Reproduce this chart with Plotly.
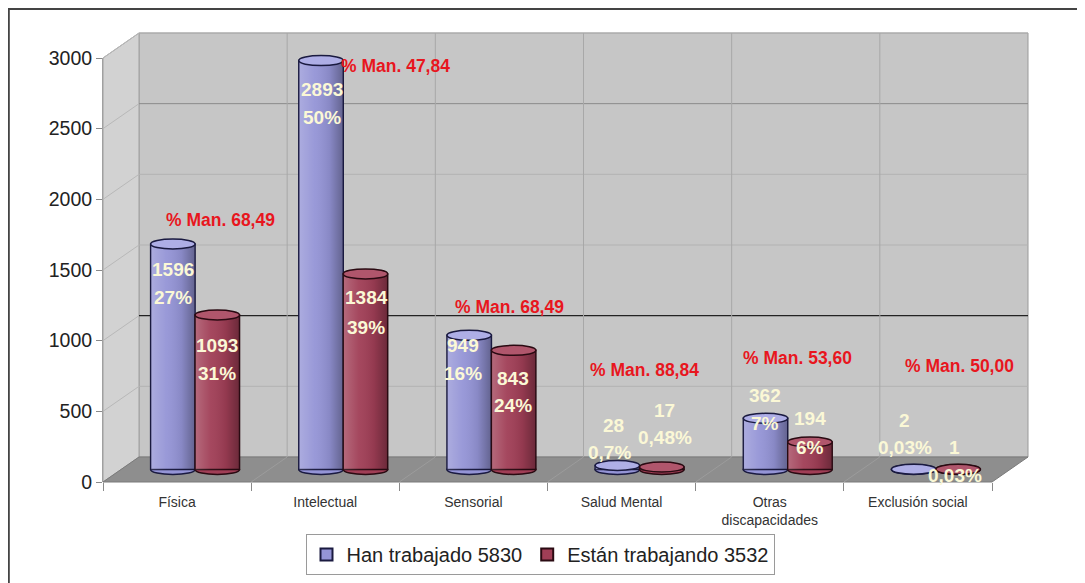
import plotly.graph_objects as go

categories = ["Física", "Intelectual", "Sensorial", "Salud Mental", "Otras<br>discapacidades", "Exclusión social"]
han = [1596, 2893, 949, 28, 362, 2]
estan = [1093, 1384, 843, 17, 194, 1]
han_pct = ["27%", "50%", "16%", "0,7%", "7%", "0,03%"]
estan_pct = ["31%", "39%", "24%", "0,48%", "6%", "0,03%"]
man_pct = ["68,49", "47,84", "68,49", "88,84", "53,60", "50,00"]
y_ticks = [0, 500, 1000, 1500, 2000, 2500, 3000]
legend_names = ["Han trabajado 5830", "Están trabajando 3532"]

# label placement (pixels, positive = below bar top)
han_val_dy = [26, 29, 10, -40, -23, -49]
han_pct_dy = [54, 57, 38, -13, 5, -22]
han_val_dx = [0, 1, -6, -4, -1, -9]
han_pct_dx = [0, 1, -6, -8, -1, -9]
estan_val_dy = [30, 24, 28, -57, -24, -22]
estan_pct_dy = [58, 54, 55, -30, 5, 6]
estan_dx = [0, 1, 0, 3, 0, -3]
man_dx = [25, 52, 18, 5, 10, 24]
man_dy = [24, -5, 28, 96, 60, 103]

# geometry (page pixels; the html body adds an 8px offset)
OFF = 8
W, H = 1085 - OFF, 583 - OFF
L, R, T, B = 103 - OFF, 1028 - OFF, 33 - OFF, 482 - OFF
PW, PH = R - L, B - T
DX, DY = 36, 25
FRONT_W, FRONT_H = PW - DX, PH - DY
YMAX = 3000
Y2MIN = -80

def px(xp):
    return (xp - OFF - L) / PW

def py(yp):
    return (B - (yp - OFF)) / PH

blue, blue_top, blue_line = "#9494d6", "#aeaee6", "#1a1a40"
red, red_top, red_line = "#a03e56", "#b0566c", "#2a0a12"
shade_scale = [[0, "rgba(255,255,255,0.22)"], [0.35, "rgba(255,255,255,0.05)"],
               [0.7, "rgba(0,0,0,0.08)"], [1, "rgba(0,0,0,0.32)"]]

n = len(categories)
idx = list(range(n))

fig = go.Figure()

# invisible trace for front category axis
fig.add_trace(go.Scatter(x=categories, y=[0] * n, mode="markers",
                         marker=dict(opacity=0), showlegend=False, hoverinfo="skip",
                         xaxis="x", yaxis="y"))

fig.add_trace(go.Bar(x=idx, y=han, name=legend_names[0], xaxis="x2", yaxis="y2",
                     offset=-0.3, width=0.3, marker=dict(color=blue, line=dict(color=blue_line, width=1.5))))
fig.add_trace(go.Bar(x=idx, y=estan, name=legend_names[1], xaxis="x2", yaxis="y2",
                     offset=0.0, width=0.3, marker=dict(color=red, line=dict(color=red_line, width=1.5))))

# cylinder shading overlays
for i in idx:
    for v, x0 in [(han[i], i - 0.3), (estan[i], i)]:
        fig.add_trace(go.Scatter(x=[x0 + 0.004, x0 + 0.296, x0 + 0.296, x0 + 0.004, x0 + 0.004],
                                 y=[0, 0, v, v, 0], xaxis="x2", yaxis="y2", mode="none",
                                 fill="toself", fillgradient=dict(type="horizontal", colorscale=shade_scale),
                                 showlegend=False, hoverinfo="skip"))

shapes = []
wall_x = DX / PW
wall_y = DY / PH
front_x = FRONT_W / PW
front_y = FRONT_H / PH
# back wall
shapes.append(dict(type="rect", xref="paper", yref="paper", x0=wall_x, x1=1, y0=wall_y, y1=1,
                   fillcolor="#c6c6c6", line=dict(color="#9a9a9a", width=1), layer="below"))
# left wall
shapes.append(dict(type="path", xref="paper", yref="paper",
                   path=f"M 0 0 L 0 {front_y} L {wall_x} 1 L {wall_x} {wall_y} Z",
                   fillcolor="#d2d2d2", line=dict(color="#a0a0a0", width=1), layer="below"))
# floor
shapes.append(dict(type="path", xref="paper", yref="paper",
                   path=f"M 0 0 L {front_x} 0 L 1 {wall_y} L {wall_x} {wall_y} Z",
                   fillcolor="#8e8e8e", line=dict(color="#7a7a7a", width=1), layer="below"))
# gridlines on back wall and left wall
for v in y_ticks[1:]:
    yb = wall_y + v / YMAX * front_y
    yf = v / YMAX * front_y
    col = "#222222" if v == 1000 else ("#8a8a8a" if v == 2500 else "#b2b2b2")
    wdt = 1.3 if v == 1000 else 1
    shapes.append(dict(type="line", xref="paper", yref="paper", x0=wall_x, x1=1, y0=yb, y1=yb,
                       line=dict(color=col, width=wdt), layer="below"))
    shapes.append(dict(type="line", xref="paper", yref="paper", x0=0, x1=wall_x, y0=yf, y1=yb,
                       line=dict(color="#b8b8b8", width=1), layer="below"))
# vertical separators on back wall and floor
for k in range(1, n):
    xb = wall_x + k / n * front_x
    shapes.append(dict(type="line", xref="paper", yref="paper", x0=xb, x1=xb, y0=wall_y, y1=1,
                       line=dict(color="#a8a8a8", width=1), layer="below"))
    shapes.append(dict(type="line", xref="paper", yref="paper", x0=k / n * front_x, x1=xb, y0=0, y1=wall_y,
                       line=dict(color="#9c9c9c", width=1), layer="below"))

# cylinder ends
eh = 5 * (YMAX - Y2MIN) / (FRONT_H + 11.3)  # ~5px half height in data units
for i, (a, b) in enumerate(zip(han, estan)):
    for (v, x0, x1, c, ct, lc) in [(a, i - 0.3, i, blue, blue_top, blue_line), (b, i, i + 0.3, red, red_top, red_line)]:
        shapes.append(dict(type="circle", xref="x2", yref="y2", x0=x0, x1=x1, y0=-eh, y1=eh,
                           fillcolor=c, line=dict(color=lc, width=1.5), layer="below"))
        shapes.append(dict(type="circle", xref="x2", yref="y2", x0=x0, x1=x1, y0=v - eh, y1=v + eh,
                           fillcolor=ct, line=dict(color=lc, width=1.5), layer="above"))

# outer border (left and top edges visible in the window)
shapes.append(dict(type="rect", xref="paper", yref="paper", x0=px(8.8), x1=px(1100), y0=py(9), y1=py(600),
                   line=dict(color="#444444", width=2), fillcolor="rgba(0,0,0,0)", layer="above"))

annotations = []
lab_font = dict(family="Liberation Sans, Arial", size=19, color="#fbf8d6")
for i in idx:
    annotations.append(dict(x=i, y=han[i], xref="x2", yref="y2", text=f"<b>{han[i]}</b>", showarrow=False,
                            xshift=-22 + han_val_dx[i], yshift=-han_val_dy[i], font=lab_font))
    annotations.append(dict(x=i, y=han[i], xref="x2", yref="y2", text=f"<b>{han_pct[i]}</b>", showarrow=False,
                            xshift=-22 + han_pct_dx[i], yshift=-han_pct_dy[i], font=lab_font))
    annotations.append(dict(x=i, y=estan[i], xref="x2", yref="y2", text=f"<b>{estan[i]}</b>", showarrow=False,
                            xshift=22 + estan_dx[i], yshift=-estan_val_dy[i], font=lab_font))
    annotations.append(dict(x=i, y=estan[i], xref="x2", yref="y2", text=f"<b>{estan_pct[i]}</b>", showarrow=False,
                            xshift=22 + estan_dx[i], yshift=-estan_pct_dy[i], font=lab_font))
    annotations.append(dict(x=i, y=max(han[i], estan[i]), xref="x2", yref="y2",
                            text=f"<b>% Man. {man_pct[i]}</b>", showarrow=False,
                            xshift=man_dx[i], yshift=man_dy[i],
                            font=dict(family="Liberation Sans, Arial", size=17.5, color="#e8161e")))

fig.update_layout(
    width=W, height=H,
    margin=dict(l=L, r=W - R, t=T, b=H - B, pad=0, autoexpand=False),
    paper_bgcolor="white", plot_bgcolor="rgba(0,0,0,0)",
    font=dict(family="Liberation Sans, Arial", color="#222222"),
    barmode="overlay",
    showlegend=True,
    legend=dict(orientation="h", xref="container", yref="container",
                x=(540 - OFF) / W, xanchor="center", y=1 - (534 - OFF) / H, yanchor="top",
                bordercolor="#9a9a9a", borderwidth=1, bgcolor="white",
                font=dict(size=20, color="#222222"), itemwidth=30, tracegroupgap=0,
                itemsizing="constant"),
    xaxis=dict(domain=[0, front_x], type="category", range=[-0.5, n - 0.5], tickson="boundaries",
               ticks="outside", ticklen=8, tickcolor="#8a8a8a", showgrid=False, zeroline=False,
               showline=False, tickfont=dict(size=14, color="#333333"), ticklabelstandoff=10,
               fixedrange=True, automargin=False),
    yaxis=dict(domain=[0, front_y], range=[0, YMAX], tickvals=y_ticks, ticks="outside", ticklen=6,
               tickcolor="#8a8a8a", showline=True, linecolor="#a0a0a0", showgrid=False, zeroline=False,
               tickfont=dict(size=19.5, color="#222222"), fixedrange=True, automargin=False),
    xaxis2=dict(domain=[DX / 2 / PW, (DX / 2 + FRONT_W) / PW], range=[-0.5, n - 0.5],
                visible=False, anchor="y2", automargin=False),
    yaxis2=dict(domain=[(DY / 2 + Y2MIN * FRONT_H / YMAX) / PH, (DY / 2 + FRONT_H) / PH],
                range=[Y2MIN, YMAX], visible=False, anchor="x2", automargin=False),
    shapes=shapes,
    annotations=annotations,
)

fig.write_html("out.html")
